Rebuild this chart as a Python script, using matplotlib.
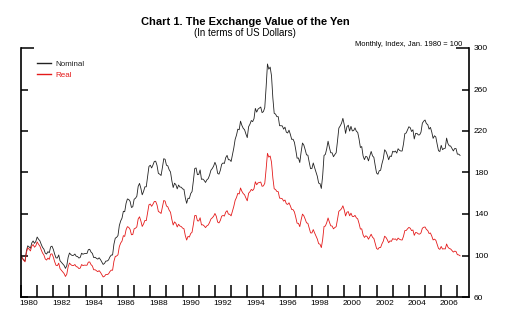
import numpy as np
import matplotlib
matplotlib.use("Agg")
import matplotlib.pyplot as plt
from matplotlib.ticker import FixedLocator, NullFormatter, FixedFormatter

plt.rcParams['font.family'] = ['Liberation Sans', 'DejaVu Sans']

# monthly index, Jan. 1980 = 100 (Jan 1980 .. Mar 2007)
start_year = 1980
nominal = [
    100.0, 97.5, 95.9, 94.8, 104.2, 109.3, 108.3, 106.9, 112.1, 114.0, 111.7, 113.6,
    117.8, 115.7, 114.2, 110.8, 107.8, 106.1, 102.3, 101.4, 103.7, 102.7, 108.3, 109.0,
    105.9, 101.3, 97.7, 97.6, 100.5, 94.9, 93.4, 92.0, 90.4, 87.6, 90.2, 98.2,
    102.4, 100.9, 100.0, 100.2, 101.4, 99.3, 99.0, 97.5, 98.2, 102.2, 101.2, 101.8,
    101.9, 102.0, 105.6, 106.0, 103.3, 102.0, 98.0, 98.3, 97.3, 96.5, 97.8, 96.1,
    93.7, 91.4, 92.4, 94.6, 94.7, 95.7, 98.6, 100.4, 100.5, 110.9, 116.7, 117.5,
    119.2, 128.8, 133.3, 136.0, 142.6, 142.2, 150.2, 154.5, 154.0, 152.2, 146.3, 147.0,
    154.2, 155.2, 157.1, 166.6, 169.5, 164.8, 158.5, 161.7, 166.2, 166.2, 175.9, 185.8,
    187.0, 184.4, 187.3, 190.7, 190.9, 186.8, 179.1, 178.4, 177.1, 184.8, 193.3, 192.7,
    187.0, 186.4, 182.7, 180.5, 172.1, 165.5, 169.7, 168.3, 164.2, 167.9, 166.0, 165.8,
    164.2, 163.7, 155.6, 150.3, 155.2, 154.9, 159.7, 161.6, 172.1, 183.8, 184.4, 177.9,
    178.2, 182.5, 173.4, 173.7, 172.4, 170.4, 172.9, 174.1, 177.4, 182.1, 183.8, 186.1,
    189.8, 186.5, 179.2, 178.4, 182.1, 187.9, 189.2, 188.7, 194.3, 196.5, 192.3, 192.3,
    190.6, 197.2, 203.6, 211.9, 216.0, 221.8, 221.2, 229.5, 225.4, 222.6, 221.2, 217.1,
    213.6, 224.1, 226.6, 230.1, 229.0, 231.9, 241.8, 238.2, 241.1, 242.1, 243.1, 237.7,
    238.7, 242.6, 262.3, 284.6, 279.6, 281.6, 273.2, 251.8, 237.0, 236.3, 233.8, 233.8,
    225.1, 225.1, 224.9, 221.8, 223.7, 218.9, 218.1, 220.8, 216.7, 211.9, 212.1, 209.1,
    201.9, 193.8, 194.0, 189.6, 199.8, 208.4, 206.4, 202.0, 197.0, 196.7, 189.9, 183.7,
    183.8, 189.2, 184.7, 180.6, 176.4, 169.8, 169.3, 164.6, 177.1, 196.4, 197.5, 202.9,
    210.2, 204.1, 199.0, 199.0, 195.2, 197.3, 199.0, 210.4, 222.8, 224.9, 227.5, 232.2,
    226.2, 217.7, 224.1, 225.6, 219.9, 224.5, 220.1, 220.4, 223.0, 219.7, 218.7, 212.3,
    204.1, 205.0, 196.0, 192.4, 195.6, 194.9, 191.2, 196.0, 200.3, 196.0, 194.6, 186.7,
    179.5, 178.3, 181.7, 182.1, 188.4, 193.2, 201.9, 200.2, 196.7, 192.3, 195.9, 195.4,
    200.5, 199.7, 200.7, 198.7, 202.9, 201.4, 200.7, 200.7, 207.5, 217.5, 218.1, 221.2,
    224.1, 223.2, 219.5, 221.2, 212.3, 217.7, 217.7, 216.2, 216.3, 218.9, 227.5, 229.5,
    230.6, 227.1, 226.2, 221.8, 223.5, 218.9, 212.9, 215.4, 214.2, 207.3, 201.0, 200.2,
    206.2, 202.0, 203.1, 203.4, 213.2, 207.9, 205.7, 205.5, 203.2, 200.8, 203.1, 203.1,
    197.7, 197.7, 196.5,
]
real = [
    100.0, 97.2, 95.3, 93.9, 102.8, 107.5, 106.1, 104.4, 109.1, 110.6, 108.0, 109.4,
    113.1, 110.8, 109.1, 105.5, 102.4, 100.5, 96.7, 95.6, 97.5, 96.3, 101.3, 101.6,
    98.5, 94.0, 90.5, 90.2, 92.6, 87.3, 85.7, 84.2, 82.6, 79.8, 82.0, 89.1,
    92.7, 91.2, 90.3, 90.3, 91.3, 89.3, 88.9, 87.4, 87.9, 91.3, 90.3, 90.7,
    90.7, 90.6, 93.6, 93.8, 91.2, 89.9, 86.2, 86.3, 85.3, 84.4, 85.4, 83.8,
    81.5, 79.3, 80.0, 81.7, 81.6, 82.3, 84.5, 85.9, 85.8, 94.4, 99.1, 99.5,
    100.7, 108.5, 112.0, 113.9, 119.1, 118.4, 124.7, 127.8, 127.1, 125.2, 120.0, 120.2,
    125.7, 126.3, 127.6, 135.2, 137.3, 133.3, 128.0, 130.4, 133.8, 133.6, 141.2, 148.9,
    149.6, 147.4, 149.5, 152.1, 152.1, 148.7, 142.4, 141.7, 140.5, 146.5, 153.0, 152.4,
    147.7, 146.9, 143.7, 141.7, 134.8, 129.4, 132.4, 131.0, 127.5, 130.1, 128.4, 127.9,
    126.4, 125.8, 119.2, 114.9, 118.4, 117.8, 121.2, 122.4, 130.0, 138.5, 138.6, 133.4,
    133.3, 136.4, 129.5, 129.6, 128.5, 126.9, 128.6, 129.4, 131.8, 135.1, 136.3, 137.8,
    140.5, 137.8, 132.2, 131.4, 133.8, 137.9, 138.6, 138.0, 141.8, 143.2, 139.9, 139.7,
    138.2, 142.8, 147.3, 153.1, 155.9, 159.9, 159.3, 165.1, 161.9, 159.7, 158.5, 155.4,
    152.7, 160.0, 161.5, 163.7, 162.6, 164.4, 171.1, 168.2, 170.0, 170.4, 170.8, 166.7,
    167.1, 169.6, 183.2, 198.5, 194.8, 195.9, 189.9, 174.8, 164.3, 163.6, 161.7, 161.5,
    155.3, 155.1, 154.7, 152.4, 153.5, 149.9, 149.2, 150.8, 147.8, 144.3, 144.2, 142.0,
    136.9, 131.1, 131.0, 127.8, 134.4, 139.9, 138.3, 135.1, 131.5, 131.0, 126.2, 121.8,
    121.7, 125.0, 121.8, 118.9, 115.9, 111.4, 110.9, 107.6, 115.6, 128.0, 128.4, 131.7,
    136.2, 132.1, 128.6, 128.4, 125.7, 126.9, 127.8, 134.9, 142.6, 143.7, 145.1, 147.9,
    143.9, 138.1, 141.7, 142.3, 138.3, 140.8, 137.7, 137.5, 138.7, 136.3, 135.3, 130.9,
    125.5, 125.7, 119.9, 117.4, 119.0, 118.2, 115.7, 118.2, 120.5, 117.6, 116.4, 111.4,
    106.8, 105.9, 107.7, 107.7, 111.2, 113.8, 118.6, 117.4, 115.1, 112.3, 114.1, 113.6,
    116.3, 115.6, 116.0, 114.6, 116.8, 115.7, 115.1, 114.9, 118.5, 124.0, 124.1, 125.7,
    127.1, 126.3, 124.0, 124.6, 119.4, 122.2, 121.9, 120.8, 120.6, 121.8, 126.3, 127.2,
    127.5, 125.1, 124.1, 121.2, 121.7, 118.7, 115.0, 115.8, 114.7, 110.6, 106.8, 105.9,
    108.7, 106.2, 106.5, 106.3, 111.1, 108.1, 106.7, 106.3, 104.8, 103.3, 104.2, 103.9,
    100.8, 100.6, 99.7,
]
year_labels = [str(y) for y in range(1980, 2007, 2)]
y_ticks = [60, 100, 140, 180, 220, 260]

t = start_year + np.arange(len(nominal)) / 12.0

W, H = 509, 316
fig = plt.figure(figsize=(W / 100, H / 100), dpi=100)
ax = fig.add_axes([21 / W, 1 - 297 / H, (469 - 21) / W, (297 - 48) / H])

ax.plot(t, nominal, color='#222222', lw=0.6, label='Nominal')
ax.plot(t, real, color='#e41a1a', lw=0.6, label='Real')

ax.set_xlim(1980, 2007.72)
ax.set_ylim(60, 300)

for s in ['left', 'right', 'bottom']:
    ax.spines[s].set_linewidth(1.2)
ax.spines['top'].set_visible(False)

# x: year ticks pointing up, labels centred between them
ax.xaxis.set_major_locator(FixedLocator(range(1980, 2008)))
ax.xaxis.set_major_formatter(NullFormatter())
ax.xaxis.set_minor_locator(FixedLocator([y + 0.5 for y in range(1980, 2007, 2)]))
ax.xaxis.set_minor_formatter(FixedFormatter(year_labels))
ax.tick_params(axis='x', which='major', direction='in', length=9, width=1.1)
ax.tick_params(axis='x', which='minor', length=0, pad=2.5, labelsize=6)

# y: ticks inside both sides, labels right
ax.yaxis.set_major_locator(FixedLocator(y_ticks))
ax.yaxis.set_major_formatter(FixedFormatter([str(v) for v in y_ticks]))
ax.yaxis.set_minor_locator(FixedLocator([300]))
ax.yaxis.set_minor_formatter(FixedFormatter(['300']))
ax.tick_params(axis='y', which='both', direction='in', left=True, right=True,
               labelleft=False, labelright=True, width=1.1, pad=3.5, labelsize=6)
ax.tick_params(axis='y', which='major', length=5)
ax.tick_params(axis='y', which='minor', length=9.5)

fig.text(245 / W, 1 - 22 / H, 'Chart 1. The Exchange Value of the Yen',
         ha='center', va='center', fontsize=8, fontweight='bold')
fig.text(245 / W, 1 - 33 / H, '(In terms of US Dollars)',
         ha='center', va='center', fontsize=7)
fig.text(462 / W, 1 - 44.5 / H, 'Monthly, Index, Jan. 1980 = 100',
         ha='right', va='center', fontsize=5.4)

leg = ax.legend(loc='upper left', bbox_to_anchor=(37 / W, 1 - 60 / H),
                bbox_transform=fig.transFigure, frameon=False, fontsize=5.8,
                handlelength=1.75, handletextpad=0.5, labelspacing=0.45,
                borderpad=0, borderaxespad=0, labelcolor='linecolor')
for line in leg.get_lines():
    line.set_linewidth(1.0)

fig.savefig('out.png', dpi=100)
